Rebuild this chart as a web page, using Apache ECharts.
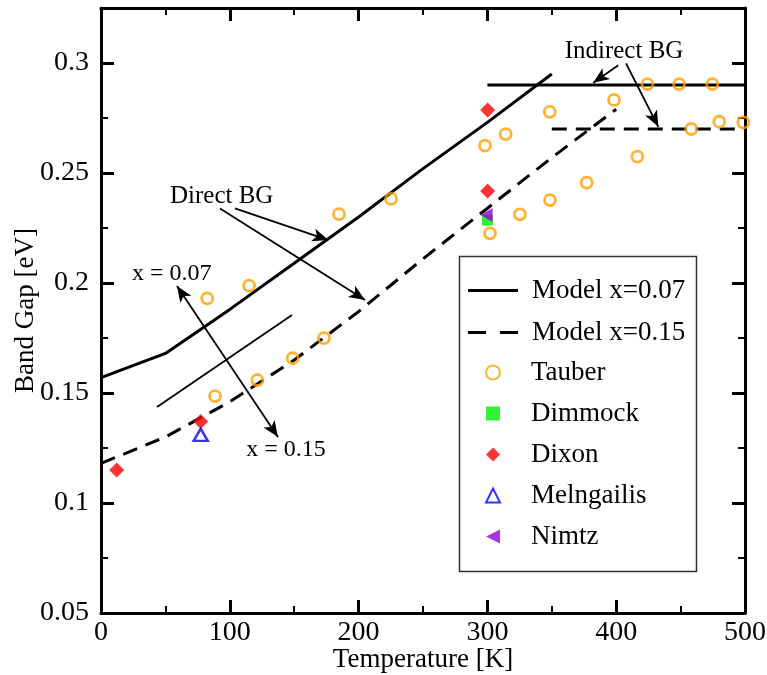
<!DOCTYPE html>
<html><head><meta charset="utf-8">
<script src="https://cdn.jsdelivr.net/npm/echarts@6/dist/echarts.min.js"></script>
<style>html,body{margin:0;padding:0;background:#fff}#c{width:767px;height:675px}</style>
</head><body><div id="c"></div>
<script>
// ---- data ----
const model007 = [[0,0.157],[50,0.168],[100,0.188],[150,0.209],[200,0.230],[250,0.252],[300,0.273],[350,0.295]];
const model007Indirect = [[300,0.290],[500,0.290]];
const model015 = [[0,0.118],[50,0.130],[100,0.146],[150,0.165],[200,0.187],[250,0.211],[300,0.234],[350,0.257],[400,0.279]];
const model015Indirect = [[350,0.270],[500,0.270]];
const tauber = [[82.5,0.193],[115,0.1988],[88.5,0.1486],[121.4,0.1559],[148.8,0.1658],[173.1,0.1749],[184.8,0.2313],[225.2,0.2382],[298.1,0.2624],[314.2,0.2677],[302,0.2226],[325.3,0.2312],[348.6,0.2377],[348.4,0.2778],[377.1,0.2456],[398.3,0.2832],[416.4,0.2574],[424.2,0.2904],[448.8,0.2904],[474.6,0.2904],[458.3,0.270],[480,0.2733],[498.7,0.273]];
const dimmock = [[300,0.2286]];
const dixon = [[12.2,0.115],[77.4,0.137],[300.2,0.2786],[300.2,0.2418]];
const melngailis = [[77.4,0.131]];
const nimtz = [[299.4,0.2309]];
const xTicks = {min:0, max:500, interval:100};
const yTicks = {min:0.05, max:0.325, interval:0.05};
// annotations (data coords)
const directArrows = [[[104,0.2339],[176.5,0.2195]],[[92.4,0.2339],[205,0.1923]]];
const indirectArrows = [[[401.6,0.299],[382.2,0.291]],[[407.6,0.2998],[432.7,0.271]]];
const xArrow = [[59,0.1986],[137.4,0.130]];
const thinLine = [[43.5,0.1436],[148.3,0.1855]];

const FONT = '"Liberation Serif","DejaVu Serif",serif';
const chart = echarts.init(document.getElementById('c'));
const axisCommon = {
  axisLine:{show:true, onZero:false, lineStyle:{color:'#000', width:3}},
  axisTick:{show:true, inside:true, length:13, lineStyle:{color:'#000', width:3}},
  minorTick:{show:true, splitNumber:2, length:7, lineStyle:{color:'#000', width:2}},
  splitLine:{show:false}
};
function arrowLine(pair, sym){
  return [{coord:pair[0], symbol:sym[0]},{coord:pair[1], symbol:sym[1]}];
}
const legText = {fontFamily:FONT, fontSize:27, color:'#000'};
chart.setOption({
  animation:false,
  backgroundColor:'#fff',
  grid:{left:101, right:22, top:8, bottom:62, containLabel:false, outerBoundsMode:'none'},
  xAxis:[
    Object.assign({type:'value', position:'bottom', min:xTicks.min, max:xTicks.max, interval:xTicks.interval,
      name:'Temperature [K]', nameLocation:'middle', nameGap:33, nameMoveOverlap:false,
      nameTextStyle:{fontFamily:FONT, fontSize:27, color:'#000'},
      axisLabel:{fontFamily:FONT, fontSize:28, color:'#000', margin:6}}, axisCommon),
    Object.assign({type:'value', position:'top', min:xTicks.min, max:xTicks.max, interval:xTicks.interval,
      axisLabel:{show:false}}, axisCommon)
  ],
  yAxis:[
    Object.assign({type:'value', position:'left', min:yTicks.min, max:yTicks.max, interval:yTicks.interval,
      name:'Band Gap [eV]', nameLocation:'middle', nameGap:62, nameMoveOverlap:false,
      nameTextStyle:{fontFamily:FONT, fontSize:27, color:'#000'},
      axisLabel:{fontFamily:FONT, fontSize:28, color:'#000', margin:12, showMaxLabel:false,
        formatter:v=>String(+v.toFixed(3))}}, axisCommon),
    Object.assign({type:'value', position:'right', min:yTicks.min, max:yTicks.max, interval:yTicks.interval,
      axisLabel:{show:false}}, axisCommon)
  ],
  legend:[
    {orient:'vertical', left:463, top:272, itemWidth:50, itemHeight:3, itemGap:15,
     textStyle:Object.assign({padding:[0,0,0,9]}, legText),
     data:[
       {name:'Model x=0.07', icon:'path://M0,0h50v3h-50z', itemStyle:{color:'#000'}},
       {name:'Model x=0.15', icon:'path://M0,0h18v3h-18zM32,0h18v3h-18z', itemStyle:{color:'#000'}}
     ]},
    {orient:'vertical', left:480, top:354, itemWidth:14, itemHeight:14, itemGap:14,
     textStyle:Object.assign({padding:[0,0,0,26]}, legText),
     data:[
       {name:'Tauber'},
       {name:'Dimmock'},
       {name:'Dixon', itemStyle:{color:'#ff0000'}},
       {name:'Melngailis'},
       {name:'Nimtz', icon:'path://M0,5L10,0L10,10Z'}
     ]}
  ],
  graphic:[
    {type:'rect', shape:{x:459.5, y:256.5, width:237, height:315}, style:{fill:'none', stroke:'#333', lineWidth:1.5}, z:0},
    {type:'text', x:221.7, y:196, style:{text:'Direct BG', font:'25px '+FONT, fill:'#000', align:'center', verticalAlign:'middle'}},
    {type:'text', x:624, y:51.7, style:{text:'Indirect BG', font:'25px '+FONT, fill:'#000', align:'center', verticalAlign:'middle'}},
    {type:'text', x:171.7, y:273.3, style:{text:'x = 0.07', font:'24px '+FONT, fill:'#000', align:'center', verticalAlign:'middle'}},
    {type:'text', x:286, y:450, style:{text:'x = 0.15', font:'24px '+FONT, fill:'#000', align:'center', verticalAlign:'middle'}}
  ],
  series:[
    {name:'Model x=0.07', type:'line', data:model007, symbol:'none', lineStyle:{color:'#000', width:3}, itemStyle:{color:'#000'}, z:3,
      markLine:{silent:true, animation:false, symbolSize:[10,16], label:{show:false},
        lineStyle:{color:'#000', width:1.8, type:'solid'},
        data:[
          arrowLine(directArrows[0],['none','arrow']),
          arrowLine(directArrows[1],['none','arrow']),
          arrowLine(indirectArrows[0],['none','arrow']),
          arrowLine(indirectArrows[1],['none','arrow']),
          arrowLine(xArrow,['arrow','arrow']),
          arrowLine(thinLine,['none','none'])
        ]}},
    {name:'Model x=0.07', type:'line', data:model007Indirect, symbol:'none', lineStyle:{color:'#000', width:3}, itemStyle:{color:'#000'}, z:3},
    {name:'Model x=0.15', type:'line', data:model015, symbol:'none', lineStyle:{color:'#000', width:3, type:[15,9]}, itemStyle:{color:'#000'}, z:3},
    {name:'Model x=0.15', type:'line', data:model015Indirect, symbol:'none', lineStyle:{color:'#000', width:3, type:[15,9]}, itemStyle:{color:'#000'}, z:3},
    {name:'Tauber', type:'scatter', data:tauber, symbol:'circle', symbolSize:11,
      itemStyle:{color:'rgba(255,255,255,0)', borderColor:'#ff9f00', borderWidth:2.8}, z:4},
    {name:'Dimmock', type:'scatter', data:dimmock, symbol:'rect', symbolSize:11, itemStyle:{color:'#00ee00'}, z:4},
    {name:'Dixon', type:'scatter', data:dixon, symbol:'diamond', symbolSize:15, itemStyle:{color:'#ff0000'}, z:4},
    {name:'Melngailis', type:'scatter', data:melngailis, symbol:'triangle', symbolSize:[14,12],
      itemStyle:{color:'rgba(255,255,255,0)', borderColor:'#0000ff', borderWidth:2.5}, z:4},
    {name:'Nimtz', type:'scatter', data:nimtz, symbol:'triangle', symbolRotate:90, symbolSize:[14,12], itemStyle:{color:'#9400d3'}, z:5}
  ]
});
</script></body></html>
